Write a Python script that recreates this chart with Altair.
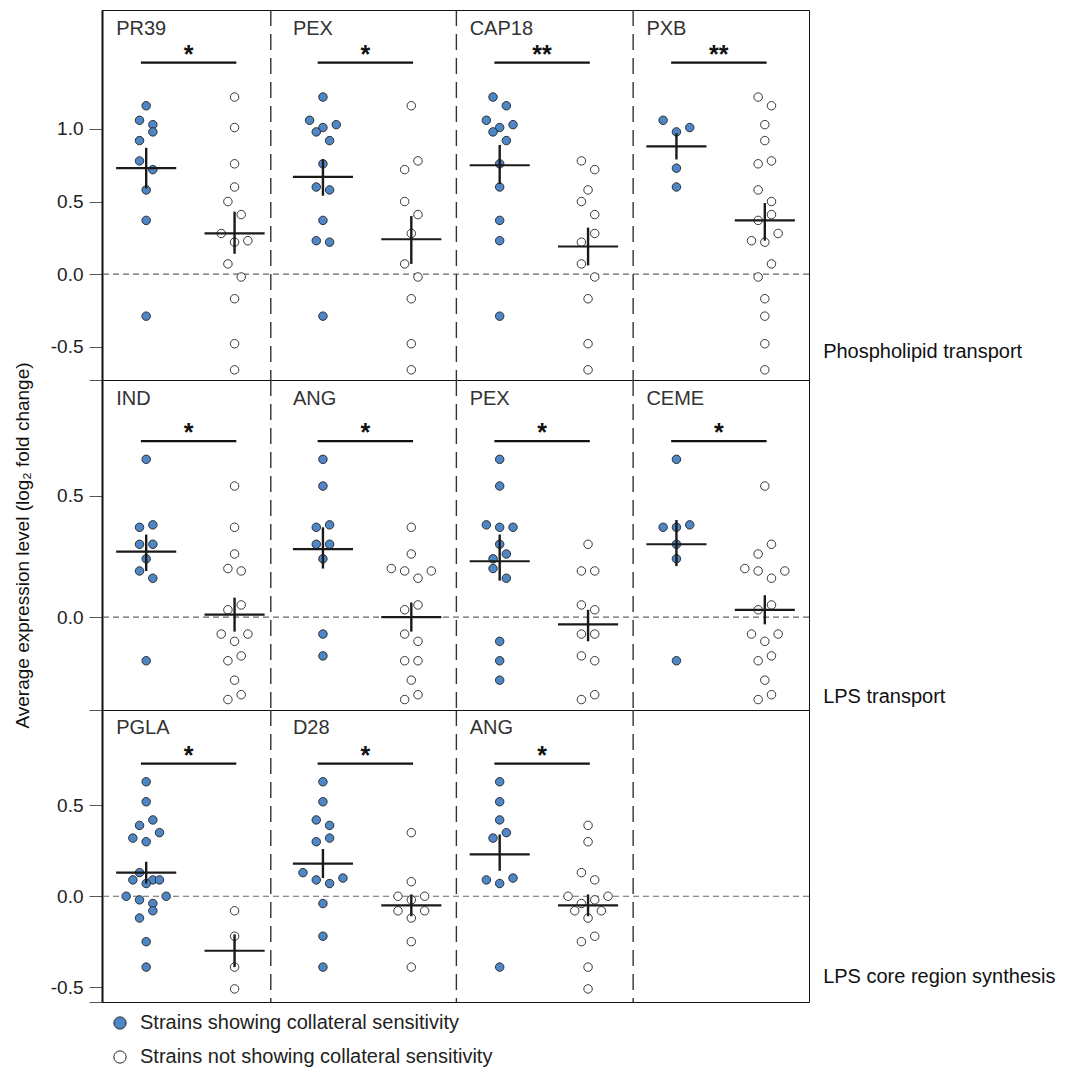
import altair as alt
import pandas as pd

# ---------------- data ----------------
GROUPS = ["Strains showing collateral sensitivity", "Strains not showing collateral sensitivity"]
ROW_NAMES = ["Phospholipid transport", "LPS transport", "LPS core region synthesis"]

PANEL_ROW = [0, 0, 0, 0, 1, 1, 1, 1, 2, 2, 2]
PANEL_COL = [0, 1, 2, 3, 0, 1, 2, 3, 0, 1, 2]
PANEL_NAME = ["PR39", "PEX", "CAP18", "PXB", "IND", "ANG", "PEX", "CEME", "PGLA", "D28", "ANG"]
PANEL_STARS = ["*", "*", "**", "**", "*", "*", "*", "*", "*", "*", "*"]

# row 1
PR39_S = [1.16, 1.06, 1.03, 0.98, 0.92, 0.78, 0.72, 0.58, 0.37, -0.29]
PR39_S_K = [0, -1, 1, 1, -1, -1, 1, 0, 0, 0]
PR39_N = [1.22, 1.01, 0.76, 0.60, 0.50, 0.41, 0.28, 0.22, 0.23, 0.07, -0.02, -0.17, -0.48, -0.66]
PR39_N_K = [0, 0, 0, 0, -1, 1, -2, 0, 2, -1, 1, 0, 0, 0]

PEX1_S = [1.22, 1.06, 1.03, 1.01, 0.98, 0.92, 0.76, 0.60, 0.58, 0.37, 0.23, 0.22, -0.29]
PEX1_S_K = [0, -2, 2, 0, -1, 1, 0, -1, 1, 0, -1, 1, 0]
PEX1_N = [1.16, 0.78, 0.72, 0.50, 0.41, 0.28, 0.07, -0.02, -0.17, -0.48, -0.66]
PEX1_N_K = [0, 1, -1, -1, 1, 0, -1, 1, 0, 0, 0]

CAP18_S = [1.22, 1.16, 1.06, 1.03, 1.01, 0.98, 0.92, 0.76, 0.60, 0.37, 0.23, -0.29]
CAP18_S_K = [-1, 1, -2, 2, 0, -1, 1, 0, 0, 0, 0, 0]
CAP18_N = [0.78, 0.72, 0.58, 0.50, 0.41, 0.28, 0.22, 0.07, -0.02, -0.17, -0.48, -0.66]
CAP18_N_K = [-1, 1, 0, -1, 1, 1, -1, -1, 1, 0, 0, 0]

PXB_S = [1.06, 1.01, 0.98, 0.73, 0.60]
PXB_S_K = [-2, 2, 0, 0, 0]
PXB_N = [1.22, 1.16, 1.03, 0.92, 0.78, 0.76, 0.58, 0.50, 0.41, 0.37, 0.28, 0.23, 0.22,
         0.07, -0.02, -0.17, -0.29, -0.48, -0.66]
PXB_N_K = [-1, 1, 0, 0, 1, -1, -1, 1, 1, -1, 2, -2, 0, 1, -1, 0, 0, 0, 0]

# row 2
IND_S = [0.65, 0.38, 0.37, 0.30, 0.30, 0.24, 0.19, 0.16, -0.18]
IND_S_K = [0, 1, -1, -1, 1, 0, -1, 1, 0]
IND_N = [0.54, 0.37, 0.26, 0.20, 0.19, 0.05, 0.03, -0.07, -0.07, -0.10, -0.16, -0.18, -0.26, -0.32, -0.34]
IND_N_K = [0, 0, 0, -1, 1, 1, -1, -2, 2, 0, 1, -1, 0, 1, -1]

ANG2_S = [0.65, 0.54, 0.38, 0.37, 0.30, 0.30, 0.24, -0.07, -0.16]
ANG2_S_K = [0, 0, 1, -1, -1, 1, 0, 0, 0]
ANG2_N = [0.37, 0.26, 0.20, 0.19, 0.19, 0.16, 0.05, 0.03, -0.07, -0.10, -0.18, -0.18, -0.26, -0.32, -0.34]
ANG2_N_K = [0, 0, -3, -1, 3, 1, 1, -1, -1, 1, -1, 1, 0, 1, -1]

PEX2_S = [0.65, 0.54, 0.38, 0.37, 0.37, 0.30, 0.26, 0.24, 0.20, 0.16, -0.10, -0.18, -0.26]
PEX2_S_K = [0, 0, -2, 0, 2, 0, 1, -1, -1, 1, 0, 0, 0]
PEX2_N = [0.30, 0.19, 0.19, 0.05, 0.03, -0.07, -0.07, -0.16, -0.18, -0.32, -0.34]
PEX2_N_K = [0, -1, 1, -1, 1, -1, 1, -1, 1, 1, -1]

CEME_S = [0.65, 0.38, 0.37, 0.37, 0.30, 0.24, -0.18]
CEME_S_K = [0, 2, -2, 0, 0, 0, 0]
CEME_N = [0.54, 0.30, 0.26, 0.20, 0.19, 0.19, 0.16, 0.05, 0.03, -0.07, -0.07, -0.10, -0.16, -0.18,
          -0.26, -0.32, -0.34]
CEME_N_K = [0, 1, -1, -3, -1, 3, 1, 1, -1, -2, 2, 0, 1, -1, 0, 1, -1]

# row 3
PGLA_S = [0.63, 0.52, 0.42, 0.39, 0.35, 0.32, 0.30, 0.13, 0.09, 0.09, 0.09, 0.07, 0.00, 0.00,
          -0.02, -0.04, -0.08, -0.12, -0.25, -0.39]
PGLA_S_K = [0, 0, 1, -1, 2, -2, 0, -1, -2, 1, 2, 0, -3, 3, -1, 1, 1, -1, 0, 0]
PGLA_N = [-0.08, -0.22, -0.39, -0.51]
PGLA_N_K = [0, 0, 0, 0]

D28_S = [0.63, 0.52, 0.42, 0.39, 0.32, 0.30, 0.13, 0.09, 0.07, 0.10, -0.04, -0.22, -0.39]
D28_S_K = [0, 0, -1, 1, 1, -1, -3, -1, 1, 3, 0, 0, 0]
D28_N = [0.35, 0.08, 0.00, 0.00, -0.02, -0.08, -0.08, -0.12, -0.25, -0.39]
D28_N_K = [0, 0, -2, 2, 0, -2, 2, 0, 0, 0]

ANG3_S = [0.63, 0.52, 0.42, 0.35, 0.32, 0.09, 0.07, 0.10, -0.39]
ANG3_S_K = [0, 0, 0, 1, -1, -2, 0, 2, 0]
ANG3_N = [0.39, 0.30, 0.13, 0.09, 0.00, 0.00, -0.02, -0.04, -0.08, -0.08, -0.12, -0.25, -0.22, -0.39, -0.51]
ANG3_N_K = [0, 0, -1, 1, -3, 3, 1, -1, -2, 2, 0, -1, 1, 0, 0]

SENS_VALUES = [PR39_S, PEX1_S, CAP18_S, PXB_S, IND_S, ANG2_S, PEX2_S, CEME_S, PGLA_S, D28_S, ANG3_S]
SENS_K = [PR39_S_K, PEX1_S_K, CAP18_S_K, PXB_S_K, IND_S_K, ANG2_S_K, PEX2_S_K, CEME_S_K, PGLA_S_K, D28_S_K, ANG3_S_K]
NON_VALUES = [PR39_N, PEX1_N, CAP18_N, PXB_N, IND_N, ANG2_N, PEX2_N, CEME_N, PGLA_N, D28_N, ANG3_N]
NON_K = [PR39_N_K, PEX1_N_K, CAP18_N_K, PXB_N_K, IND_N_K, ANG2_N_K, PEX2_N_K, CEME_N_K, PGLA_N_K, D28_N_K, ANG3_N_K]

# group means and SEM range (as drawn)
SENS_MEAN = [0.73, 0.67, 0.75, 0.88, 0.27, 0.28, 0.23, 0.30, 0.13, 0.18, 0.23]
SENS_LO = [0.59, 0.54, 0.62, 0.79, 0.19, 0.20, 0.15, 0.21, 0.07, 0.10, 0.14]
SENS_HI = [0.87, 0.79, 0.89, 0.97, 0.34, 0.37, 0.34, 0.40, 0.19, 0.26, 0.34]
NON_MEAN = [0.28, 0.24, 0.19, 0.37, 0.01, 0.00, -0.03, 0.03, -0.30, -0.05, -0.05]
NON_LO = [0.14, 0.07, 0.06, 0.23, -0.06, -0.06, -0.10, -0.03, -0.39, -0.11, -0.11]
NON_HI = [0.43, 0.40, 0.32, 0.49, 0.08, 0.06, 0.03, 0.09, -0.21, 0.01, 0.01]

# ---------------- layout (not data) ----------------
ROW_DOMAIN = [[-0.73, 1.82], [-0.383, 0.977], [-0.582, 1.025]]
ROW_TICKS = [[-0.73, -0.5, 0.0, 0.5, 1.0], [-0.383, 0.0, 0.5], [-0.582, -0.5, 0.0, 0.5]]
ROW_HEIGHT = [370, 330, 292]
ROW_BAR_Y = [1.457, 0.725, 0.730]
ROW_LABEL_Y = [1.69, 0.897, 0.928]
ROW_NAME_Y = [-0.538, -0.33, -0.444]
DIVIDERS = [0.705, 1.755, 2.755]
X_DOMAIN = [-0.25, 3.75]
WIDTH = 707
STEP = 0.0377
HALF = 0.17
OPEN_OFF = 0.5
FONT = "Liberation Sans"
BLUE = "#4f86c6"

pts, stats, sig = [], [], []
for i in range(len(PANEL_NAME)):
    r, c = PANEL_ROW[i], PANEL_COL[i]
    for g, (vals, ks) in enumerate([(SENS_VALUES[i], SENS_K[i]), (NON_VALUES[i], NON_K[i])]):
        for v, k in zip(vals, ks):
            pts.append(dict(row=r, x=c + g * OPEN_OFF + k * STEP, y=v, grp=GROUPS[g]))
    for g, (m, lo, hi) in enumerate([(SENS_MEAN[i], SENS_LO[i], SENS_HI[i]),
                                     (NON_MEAN[i], NON_LO[i], NON_HI[i])]):
        cx = c + g * OPEN_OFF
        stats.append(dict(row=r, x=cx, xa=cx - HALF, xb=cx + HALF, y=m, lo=lo, hi=hi))
    sig.append(dict(row=r, xa=c - 0.03, xb=c + 0.51, xs=c + 0.24, xl=c - 0.17,
                    y=ROW_BAR_Y[r], yl=ROW_LABEL_Y[r], stars=PANEL_STARS[i], name=PANEL_NAME[i]))
pts = pd.DataFrame(pts)
stats = pd.DataFrame(stats)
sig = pd.DataFrame(sig)

LABEL_EXPR = ("abs(datum.value*2 - round(datum.value*2)) > 0.01 ? '' : "
              "(datum.value < 0 ? '-' : '') + format(abs(datum.value), '.1f')")


def ychan(r, field="y"):
    ax = alt.Axis(values=ROW_TICKS[r], labelExpr=LABEL_EXPR, tickSize=13, tickColor="#555",
                  labelFontSize=19, labelColor="#222", labelFont=FONT, labelPadding=6,
                  domainColor="#111", domainWidth=2, grid=False,
                  title="Average expression level (log\u2082 fold change)" if r == 1 else None,
                  titleFont=FONT, titleFontSize=19, titleFontWeight="normal", titleColor="#111",
                  titlePadding=24)
    return alt.Y(f"{field}:Q", scale=alt.Scale(domain=ROW_DOMAIN[r], nice=False, zero=False), axis=ax)


def xchan(field="x"):
    return alt.X(f"{field}:Q", scale=alt.Scale(domain=X_DOMAIN, nice=False, zero=False), axis=None)


def row_chart(r):
    P = pts[pts.row == r]
    S = stats[stats.row == r]
    G = sig[sig.row == r]
    zero = alt.Chart(pd.DataFrame({"y": [0.0]})).mark_rule(
        color="#666", strokeDash=[6, 4], strokeWidth=1.2).encode(y=ychan(r))
    div = alt.Chart(pd.DataFrame({"x": DIVIDERS})).mark_rule(
        color="#333", strokeDash=[16, 8], strokeWidth=1.4).encode(x=xchan())
    dots = alt.Chart(P).mark_circle(size=72, stroke="#222", strokeWidth=0.9, opacity=1).encode(
        x=xchan(), y=ychan(r),
        fill=alt.Fill("grp:N", scale=alt.Scale(domain=GROUPS, range=[BLUE, "white"]), legend=None))
    mean = alt.Chart(S).mark_rule(color="#1a1a1a", strokeWidth=2.2).encode(
        x=xchan("xa"), x2="xb:Q", y=ychan(r))
    err = alt.Chart(S).mark_rule(color="#1a1a1a", strokeWidth=2.4).encode(
        x=xchan(), y=ychan(r, "lo"), y2="hi:Q")
    bar = alt.Chart(G).mark_rule(color="#111", strokeWidth=2.2).encode(
        x=xchan("xa"), x2="xb:Q", y=ychan(r))
    stars = alt.Chart(G).mark_text(font=FONT, fontSize=25, fontWeight="bold", color="#111",
                                   baseline="alphabetic", dy=0).encode(
        x=xchan("xs"), y=ychan(r), text="stars:N")
    names = alt.Chart(G).mark_text(font=FONT, fontSize=20, color="#333", align="left",
                                   baseline="middle").encode(
        x=xchan("xl"), y=ychan(r, "yl"), text="name:N")
    rname = alt.Chart(pd.DataFrame({"x": [3.83], "y": [ROW_NAME_Y[r]], "t": [ROW_NAMES[r]]})).mark_text(
        font=FONT, fontSize=20, color="#111", align="left", baseline="middle").encode(
        x=xchan(), y=ychan(r), text="t:N")
    return alt.layer(zero, div, dots, mean, err, bar, stars, names, rname).properties(
        width=WIDTH, height=ROW_HEIGHT[r])


leg_df = pd.DataFrame({"i": [0, 1], "grp": GROUPS})
leg_y = alt.Y("i:Q", scale=alt.Scale(domain=[0, 1], range=[21, 55]), axis=None)
leg_pts = alt.Chart(leg_df).mark_circle(size=150, stroke="#222", strokeWidth=1, opacity=1).encode(
    x=alt.value(18), y=leg_y,
    fill=alt.Fill("grp:N", scale=alt.Scale(domain=GROUPS, range=[BLUE, "white"]), legend=None))
leg_txt = alt.Chart(leg_df).mark_text(font=FONT, fontSize=20, color="#222", align="left",
                                      baseline="middle").encode(x=alt.value(38), y=leg_y, text="grp:N")
legend = alt.layer(leg_pts, leg_txt).properties(
    width=WIDTH, height=66, view=alt.ViewBackground(stroke="transparent"))

chart = alt.vconcat(row_chart(0), row_chart(1), row_chart(2), legend, spacing=0).resolve_scale(
    y="independent", x="independent").properties(
    bounds="flush",
    padding={"left": 5, "top": 0, "right": 5, "bottom": 0}).configure_view(
    stroke="#111", strokeWidth=1).configure_concat(spacing=0)

chart.save("out.html", embed_options={"renderer": "svg", "actions": False})
